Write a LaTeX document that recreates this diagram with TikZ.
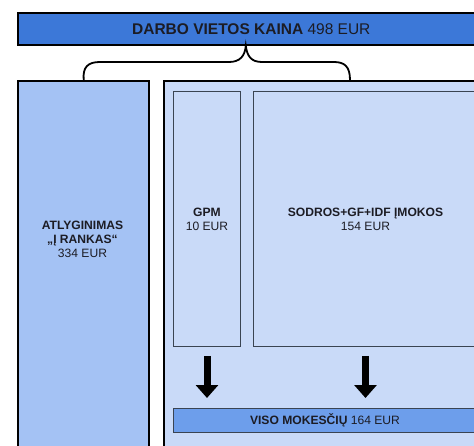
\documentclass[tikz,border=0pt]{standalone}
\usepackage{fontspec}
\setmainfont{Liberation Sans}
\usetikzlibrary{arrows.meta}
\definecolor{barblue}{HTML}{3C78D8}
\definecolor{midblue}{HTML}{6D9EEB}
\definecolor{paleblue}{HTML}{A4C2F4}
\definecolor{lightblue}{HTML}{C9DAF8}
\definecolor{edgegray}{HTML}{3A4452}
\definecolor{inkdark}{HTML}{1C1C24}
\tikzstyle{bar} = [rectangle, draw=black, line width=1.6pt, anchor=north west, inner sep=0pt, text=inkdark, align=center]
\tikzstyle{outerbox} = [rectangle, draw=black, line width=2.4pt, anchor=north west, inner sep=0pt]
\tikzstyle{innerbox} = [rectangle, draw=edgegray, line width=1pt, fill=lightblue, anchor=north west, inner sep=0pt, text=inkdark, align=center, font=\fontsize{12.1}{14}\selectfont]
\tikzstyle{txt} = [text=inkdark, align=center, font=\fontsize{12.1}{14}\selectfont]
\tikzstyle{brace} = [draw=black, line width=1.8pt]
\tikzstyle{downarrow} = [draw=black, line width=7pt, -{Triangle[width=22pt,length=13pt]}, shorten <=9pt, shorten >=10pt]

\begin{document}
\begin{tikzpicture}[x=1pt,y=-1pt]
            \useasboundingbox (0,0) rectangle (474,446);
            \fill[white] (0,0) rectangle (474,446);
            \clip (0,0) rectangle (474,446);
            \node[bar, fill=barblue, minimum width=467pt, minimum height=32pt, font=\fontsize{15.5}{17}\selectfont] (top) at (17,12) {\textbf{DARBO VIETOS KAINA} 498 EUR};
            \node[outerbox, fill=paleblue, minimum width=131pt, minimum height=400pt] (hand) at (17,80) {};
            \node[outerbox, fill=lightblue, minimum width=324pt, minimum height=400pt] (taxes) at (163,80) {};
            \node[innerbox, minimum width=67pt, minimum height=255pt] (gpm) at (173,91) {\textbf{GPM}\\10 EUR};
            \node[innerbox, minimum width=224pt, minimum height=255pt] (sodra) at (253,91) {\textbf{SODROS+GF+IDF ĮMOKOS}\\154 EUR};
            \node[innerbox, fill=midblue, minimum width=303pt, minimum height=24pt] (total) at (173,408) {\textbf{VISO MOKESČIŲ} 164 EUR};
            \node[txt] (handlabel) at (82.5,239) {\textbf{ATLYGINIMAS}\\\textbf{„Į RANKAS“}\\334 EUR};
            \coordinate (braceright) at (350,80);
            \draw[brace] (hand.north) .. controls (82.5,67) and (88,62) .. (100,62) -- (229,62)
                .. controls (240,62) and (245,56) .. ([xshift=-5.5pt]top.south)
                .. controls (247,56) and (251,62) .. (262,62) -- (334,62)
                .. controls (345,62) and (350,67) .. (braceright);
            \draw[downarrow] (gpm.south) -- (gpm.south |- total.north);
            \draw[downarrow] (sodra.south) -- (sodra.south |- total.north);
        \end{tikzpicture}
\end{document}
